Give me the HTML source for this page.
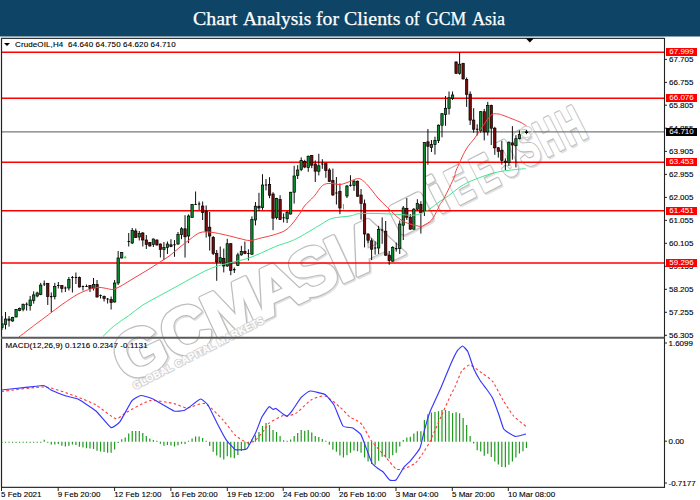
<!DOCTYPE html>
<html><head><meta charset="utf-8"><style>
html,body{margin:0;padding:0;background:#fff;}
body{width:700px;height:500px;position:relative;overflow:hidden;}
.ax{position:absolute;font-family:"Liberation Sans",sans-serif;font-size:8px;line-height:11px;color:#000;white-space:nowrap;-webkit-text-stroke:0.12px #000;}
.lbl{position:absolute;left:666px;width:31px;height:8px;font-family:"Liberation Sans",sans-serif;font-size:8px;line-height:8px;color:#fff;text-align:center;white-space:nowrap;}
.title{position:absolute;left:0;top:0;width:700px;height:36px;font-family:"Liberation Serif",serif;font-size:19px;line-height:38px;color:#fff;-webkit-text-stroke:0.25px #fff;}
.title span{position:absolute;top:0;white-space:nowrap;transform-origin:0 0;}
.tri{position:absolute;left:4px;top:43px;width:0;height:0;border-left:3.3px solid transparent;border-right:3.3px solid transparent;border-top:3.4px solid #000;}
</style></head><body>
<svg width="700" height="500" viewBox="0 0 700 500" style="position:absolute;left:0;top:0"><defs><clipPath id="mc"><rect x="1.5" y="38.5" width="662.5" height="298.5"/></clipPath><clipPath id="sc"><rect x="1.5" y="339" width="662.5" height="148"/></clipPath></defs><rect x="0" y="0" width="700" height="36.5" fill="#0e4466"/><g fill="#e2e2e2" stroke="#e2e2e2" stroke-width="4.4" stroke-linejoin="round" font-family="Liberation Sans" font-weight="bold"><g transform="translate(127.39999999999999,385.0) rotate(-25.0)" font-size="67"><text transform="translate(0,0) scale(1.0,1)">G</text><text transform="translate(52.1,0) scale(1.0,1)">C</text><text transform="translate(99,0) scale(1.05,1)">M</text><text transform="translate(150,0) scale(1.1,1)">A</text><text transform="translate(194,0) scale(1.0,1)">S</text><text transform="translate(236,0) scale(1.0,1)">I</text><text transform="translate(254,0) scale(1.15,1)">A</text></g><g transform="translate(412.3,214.8) rotate(-27)"><rect x="-17" y="-15" width="34" height="30" rx="3"/><rect x="-9" y="-8" width="18" height="16" rx="1.5"/></g><g transform="translate(438.3,195.3) rotate(-27) scale(0.9,1)"><text x="0" y="18.6" font-size="52" text-anchor="middle">i</text></g><g transform="translate(460.3,185.3) rotate(-27) scale(0.62,1)"><text x="0" y="17.9" font-size="50" text-anchor="middle">E</text></g><g transform="translate(485.3,173.3) rotate(-27) scale(0.62,1)"><text x="0" y="17.9" font-size="50" text-anchor="middle">E</text></g><g transform="translate(507.3,159.3) rotate(-27) scale(0.62,1)"><text x="0" y="17.9" font-size="50" text-anchor="middle">J</text></g><g transform="translate(527.3,148.3) rotate(-27) scale(0.62,1)"><text x="0" y="17.9" font-size="50" text-anchor="middle">S</text></g><g transform="translate(549.3,137.3) rotate(-27) scale(0.6,1)"><text x="0" y="17.9" font-size="50" text-anchor="middle">H</text></g><g transform="translate(572.3,126.3) rotate(-27) scale(0.6,1)"><text x="0" y="17.9" font-size="50" text-anchor="middle">H</text></g></g><g fill="#bdbdbd" stroke="#bdbdbd" stroke-width="4.4" stroke-linejoin="round" font-family="Liberation Sans" font-weight="bold"><g transform="translate(126.1,383.7) rotate(-25.0)" font-size="67"><text transform="translate(0,0) scale(1.0,1)">G</text><text transform="translate(52.1,0) scale(1.0,1)">C</text><text transform="translate(99,0) scale(1.05,1)">M</text><text transform="translate(150,0) scale(1.1,1)">A</text><text transform="translate(194,0) scale(1.0,1)">S</text><text transform="translate(236,0) scale(1.0,1)">I</text><text transform="translate(254,0) scale(1.15,1)">A</text></g><g transform="translate(411,213.5) rotate(-27)"><rect x="-17" y="-15" width="34" height="30" rx="3"/><rect x="-9" y="-8" width="18" height="16" rx="1.5"/></g><g transform="translate(437,194) rotate(-27) scale(0.9,1)"><text x="0" y="18.6" font-size="52" text-anchor="middle">i</text></g><g transform="translate(459,184) rotate(-27) scale(0.62,1)"><text x="0" y="17.9" font-size="50" text-anchor="middle">E</text></g><g transform="translate(484,172) rotate(-27) scale(0.62,1)"><text x="0" y="17.9" font-size="50" text-anchor="middle">E</text></g><g transform="translate(506,158) rotate(-27) scale(0.62,1)"><text x="0" y="17.9" font-size="50" text-anchor="middle">J</text></g><g transform="translate(526,147) rotate(-27) scale(0.62,1)"><text x="0" y="17.9" font-size="50" text-anchor="middle">S</text></g><g transform="translate(548,136) rotate(-27) scale(0.6,1)"><text x="0" y="17.9" font-size="50" text-anchor="middle">H</text></g><g transform="translate(571,125) rotate(-27) scale(0.6,1)"><text x="0" y="17.9" font-size="50" text-anchor="middle">H</text></g></g><g fill="#fff" stroke="#fff" stroke-width="2.0" stroke-linejoin="round" font-family="Liberation Sans" font-weight="bold"><g transform="translate(126.1,383.7) rotate(-25.0)" font-size="67"><text transform="translate(0,0) scale(1.0,1)">G</text><text transform="translate(52.1,0) scale(1.0,1)">C</text><text transform="translate(99,0) scale(1.05,1)">M</text><text transform="translate(150,0) scale(1.1,1)">A</text><text transform="translate(194,0) scale(1.0,1)">S</text><text transform="translate(236,0) scale(1.0,1)">I</text><text transform="translate(254,0) scale(1.15,1)">A</text></g><g transform="translate(411,213.5) rotate(-27)"><rect x="-17" y="-15" width="34" height="30" rx="3"/><rect x="-9" y="-8" width="18" height="16" rx="1.5"/></g><g transform="translate(437,194) rotate(-27) scale(0.9,1)"><text x="0" y="18.6" font-size="52" text-anchor="middle">i</text></g><g transform="translate(459,184) rotate(-27) scale(0.62,1)"><text x="0" y="17.9" font-size="50" text-anchor="middle">E</text></g><g transform="translate(484,172) rotate(-27) scale(0.62,1)"><text x="0" y="17.9" font-size="50" text-anchor="middle">E</text></g><g transform="translate(506,158) rotate(-27) scale(0.62,1)"><text x="0" y="17.9" font-size="50" text-anchor="middle">J</text></g><g transform="translate(526,147) rotate(-27) scale(0.62,1)"><text x="0" y="17.9" font-size="50" text-anchor="middle">S</text></g><g transform="translate(548,136) rotate(-27) scale(0.6,1)"><text x="0" y="17.9" font-size="50" text-anchor="middle">H</text></g><g transform="translate(571,125) rotate(-27) scale(0.6,1)"><text x="0" y="17.9" font-size="50" text-anchor="middle">H</text></g></g><g transform="translate(135,389.5) rotate(-27.3)" font-family="Liberation Sans" font-weight="bold" font-size="10" letter-spacing="0.3" stroke-linejoin="round"><text x="0.7" y="0.7" fill="#ececec" stroke="#ececec" stroke-width="1.8">GLOBAL CAPITAL MARKETS</text><text x="0" y="0" fill="#cdcdcd" stroke="#cdcdcd" stroke-width="1.8">GLOBAL CAPITAL MARKETS</text><text x="0" y="0" fill="#fff" stroke="#fff" stroke-width="0.3">GLOBAL CAPITAL MARKETS</text></g><g clip-path="url(#mc)"><line x1="1" y1="52.2" x2="664" y2="52.2" stroke="#ff0000" stroke-width="1.4"/><line x1="1" y1="98.2" x2="664" y2="98.2" stroke="#ff0000" stroke-width="1.4"/><line x1="1" y1="162.3" x2="664" y2="162.3" stroke="#ff0000" stroke-width="1.4"/><line x1="1" y1="210.8" x2="664" y2="210.8" stroke="#ff0000" stroke-width="1.4"/><line x1="1" y1="263.0" x2="664" y2="263.0" stroke="#ff0000" stroke-width="1.4"/><line x1="1" y1="131.9" x2="664" y2="131.9" stroke="#7a7a7a" stroke-width="1.4"/></g><g clip-path="url(#mc)"><line x1="2.00" y1="316" x2="2.00" y2="330" stroke="#000" stroke-width="0.95"/><rect x="0.82" y="323.8" width="2.35" height="3.80" fill="#0a8c2c" stroke="#000" stroke-width="0.7"/><line x1="5.52" y1="312" x2="5.52" y2="329.4" stroke="#000" stroke-width="0.95"/><rect x="4.34" y="319" width="2.35" height="5.50" fill="#0a8c2c" stroke="#000" stroke-width="0.7"/><line x1="9.04" y1="316" x2="9.04" y2="326.6" stroke="#000" stroke-width="0.95"/><rect x="7.86" y="319" width="2.35" height="1.30" fill="#7a0a0a" stroke="#000" stroke-width="0.7"/><line x1="12.56" y1="316.8" x2="12.56" y2="321.7" stroke="#000" stroke-width="0.95"/><rect x="11.38" y="317.5" width="2.35" height="3.50" fill="#0a8c2c" stroke="#000" stroke-width="0.7"/><line x1="16.08" y1="308.9" x2="16.08" y2="317.5" stroke="#000" stroke-width="0.95"/><rect x="14.90" y="309.6" width="2.35" height="7.30" fill="#0a8c2c" stroke="#000" stroke-width="0.7"/><line x1="19.60" y1="307.5" x2="19.60" y2="311.3" stroke="#000" stroke-width="0.95"/><rect x="18.43" y="308.5" width="2.35" height="2.10" fill="#0a8c2c" stroke="#000" stroke-width="0.7"/><line x1="23.12" y1="303.6" x2="23.12" y2="311.3" stroke="#000" stroke-width="0.95"/><rect x="21.95" y="304.3" width="2.35" height="4.90" fill="#0a8c2c" stroke="#000" stroke-width="0.7"/><line x1="26.64" y1="302.4" x2="26.64" y2="310.6" stroke="#000" stroke-width="0.95"/><line x1="25.46" y1="304.30" x2="27.82" y2="304.30" stroke="#000" stroke-width="1.1"/><line x1="30.16" y1="295.9" x2="30.16" y2="310.6" stroke="#000" stroke-width="0.95"/><rect x="28.98" y="300" width="2.35" height="5.70" fill="#0a8c2c" stroke="#000" stroke-width="0.7"/><line x1="33.68" y1="291.3" x2="33.68" y2="303.6" stroke="#000" stroke-width="0.95"/><rect x="32.51" y="294.9" width="2.35" height="5.60" fill="#0a8c2c" stroke="#000" stroke-width="0.7"/><line x1="37.20" y1="291.7" x2="37.20" y2="297.3" stroke="#000" stroke-width="0.95"/><rect x="36.03" y="293" width="2.35" height="3.00" fill="#0a8c2c" stroke="#000" stroke-width="0.7"/><line x1="40.72" y1="282.9" x2="40.72" y2="295.2" stroke="#000" stroke-width="0.95"/><rect x="39.55" y="285.1" width="2.35" height="9.40" fill="#0a8c2c" stroke="#000" stroke-width="0.7"/><line x1="44.24" y1="280.5" x2="44.24" y2="286" stroke="#000" stroke-width="0.95"/><line x1="43.07" y1="284.00" x2="45.41" y2="284.00" stroke="#000" stroke-width="1.1"/><line x1="47.76" y1="283" x2="47.76" y2="305" stroke="#000" stroke-width="0.95"/><rect x="46.59" y="283.3" width="2.35" height="13.30" fill="#7a0a0a" stroke="#000" stroke-width="0.7"/><line x1="51.28" y1="292.4" x2="51.28" y2="312" stroke="#000" stroke-width="0.95"/><line x1="50.11" y1="296.60" x2="52.45" y2="296.60" stroke="#000" stroke-width="1.1"/><line x1="54.80" y1="282.9" x2="54.80" y2="299.4" stroke="#000" stroke-width="0.95"/><rect x="53.62" y="286.5" width="2.35" height="10.10" fill="#0a8c2c" stroke="#000" stroke-width="0.7"/><line x1="58.32" y1="282" x2="58.32" y2="288.5" stroke="#000" stroke-width="0.95"/><line x1="57.15" y1="285.50" x2="59.49" y2="285.50" stroke="#000" stroke-width="1.1"/><line x1="61.84" y1="285" x2="61.84" y2="292.5" stroke="#000" stroke-width="0.95"/><rect x="60.67" y="285.5" width="2.35" height="3.00" fill="#7a0a0a" stroke="#000" stroke-width="0.7"/><line x1="65.36" y1="286.5" x2="65.36" y2="292" stroke="#000" stroke-width="0.95"/><line x1="64.19" y1="288.00" x2="66.53" y2="288.00" stroke="#000" stroke-width="1.1"/><line x1="68.88" y1="277" x2="68.88" y2="290.5" stroke="#000" stroke-width="0.95"/><rect x="67.70" y="279.5" width="2.35" height="8.50" fill="#0a8c2c" stroke="#000" stroke-width="0.7"/><line x1="72.40" y1="276" x2="72.40" y2="292.5" stroke="#000" stroke-width="0.95"/><line x1="71.23" y1="277.50" x2="73.58" y2="277.50" stroke="#000" stroke-width="1.1"/><line x1="75.92" y1="272.5" x2="75.92" y2="284" stroke="#000" stroke-width="0.95"/><line x1="74.75" y1="277.50" x2="77.09" y2="277.50" stroke="#000" stroke-width="1.1"/><line x1="79.44" y1="276.5" x2="79.44" y2="287.5" stroke="#000" stroke-width="0.95"/><rect x="78.27" y="277.5" width="2.35" height="9.50" fill="#7a0a0a" stroke="#000" stroke-width="0.7"/><line x1="82.96" y1="285.5" x2="82.96" y2="290.5" stroke="#000" stroke-width="0.95"/><line x1="81.78" y1="286.50" x2="84.13" y2="286.50" stroke="#000" stroke-width="1.1"/><line x1="86.48" y1="284.5" x2="86.48" y2="287" stroke="#000" stroke-width="0.95"/><line x1="85.31" y1="286.50" x2="87.66" y2="286.50" stroke="#000" stroke-width="1.1"/><line x1="90.00" y1="285" x2="90.00" y2="292" stroke="#000" stroke-width="0.95"/><rect x="88.83" y="285.5" width="2.35" height="3.00" fill="#7a0a0a" stroke="#000" stroke-width="0.7"/><line x1="93.52" y1="278" x2="93.52" y2="290.5" stroke="#000" stroke-width="0.95"/><rect x="92.34" y="284.5" width="2.35" height="3.50" fill="#0a8c2c" stroke="#000" stroke-width="0.7"/><line x1="97.04" y1="280" x2="97.04" y2="297.5" stroke="#000" stroke-width="0.95"/><rect x="95.87" y="284.5" width="2.35" height="12.50" fill="#7a0a0a" stroke="#000" stroke-width="0.7"/><line x1="100.56" y1="294.5" x2="100.56" y2="298.5" stroke="#000" stroke-width="0.95"/><line x1="99.39" y1="295.50" x2="101.73" y2="295.50" stroke="#000" stroke-width="1.1"/><line x1="104.08" y1="295.5" x2="104.08" y2="301.5" stroke="#000" stroke-width="0.95"/><rect x="102.91" y="296.5" width="2.35" height="2.00" fill="#7a0a0a" stroke="#000" stroke-width="0.7"/><line x1="107.60" y1="298" x2="107.60" y2="303.5" stroke="#000" stroke-width="0.95"/><line x1="106.42" y1="299.00" x2="108.77" y2="299.00" stroke="#000" stroke-width="1.1"/><line x1="111.12" y1="296.5" x2="111.12" y2="309.5" stroke="#000" stroke-width="0.95"/><rect x="109.95" y="299.5" width="2.35" height="3.00" fill="#7a0a0a" stroke="#000" stroke-width="0.7"/><line x1="114.64" y1="280" x2="114.64" y2="302.5" stroke="#000" stroke-width="0.95"/><rect x="113.47" y="283" width="2.35" height="19.00" fill="#0a8c2c" stroke="#000" stroke-width="0.7"/><line x1="118.16" y1="251" x2="118.16" y2="285" stroke="#000" stroke-width="0.95"/><rect x="116.98" y="258" width="2.35" height="25.00" fill="#0a8c2c" stroke="#000" stroke-width="0.7"/><line x1="121.68" y1="252" x2="121.68" y2="258.5" stroke="#000" stroke-width="0.95"/><rect x="120.51" y="252.5" width="2.35" height="5.50" fill="#0a8c2c" stroke="#000" stroke-width="0.7"/><line x1="128.72" y1="233" x2="128.72" y2="246.5" stroke="#000" stroke-width="0.95"/><line x1="127.55" y1="241.50" x2="129.90" y2="241.50" stroke="#000" stroke-width="1.1"/><line x1="132.24" y1="228" x2="132.24" y2="244" stroke="#000" stroke-width="0.95"/><rect x="131.06" y="230.5" width="2.35" height="12.50" fill="#0a8c2c" stroke="#000" stroke-width="0.7"/><line x1="135.76" y1="228.5" x2="135.76" y2="238" stroke="#000" stroke-width="0.95"/><rect x="134.58" y="231" width="2.35" height="6.50" fill="#7a0a0a" stroke="#000" stroke-width="0.7"/><line x1="139.28" y1="231" x2="139.28" y2="240.5" stroke="#000" stroke-width="0.95"/><rect x="138.10" y="233.5" width="2.35" height="3.50" fill="#0a8c2c" stroke="#000" stroke-width="0.7"/><line x1="142.80" y1="232" x2="142.80" y2="246.5" stroke="#000" stroke-width="0.95"/><rect x="141.62" y="233" width="2.35" height="7.00" fill="#7a0a0a" stroke="#000" stroke-width="0.7"/><line x1="146.32" y1="235" x2="146.32" y2="249" stroke="#000" stroke-width="0.95"/><rect x="145.14" y="240" width="2.35" height="4.50" fill="#7a0a0a" stroke="#000" stroke-width="0.7"/><line x1="149.84" y1="242" x2="149.84" y2="246.5" stroke="#000" stroke-width="0.95"/><rect x="148.66" y="242.5" width="2.35" height="3.50" fill="#7a0a0a" stroke="#000" stroke-width="0.7"/><line x1="153.36" y1="238.5" x2="153.36" y2="247" stroke="#000" stroke-width="0.95"/><rect x="152.19" y="239" width="2.35" height="5.50" fill="#0a8c2c" stroke="#000" stroke-width="0.7"/><line x1="156.88" y1="239.5" x2="156.88" y2="245.5" stroke="#000" stroke-width="0.95"/><rect x="155.70" y="240" width="2.35" height="5.00" fill="#7a0a0a" stroke="#000" stroke-width="0.7"/><line x1="160.40" y1="243.5" x2="160.40" y2="257.5" stroke="#000" stroke-width="0.95"/><rect x="159.22" y="244" width="2.35" height="5.50" fill="#7a0a0a" stroke="#000" stroke-width="0.7"/><line x1="163.92" y1="242" x2="163.92" y2="260" stroke="#000" stroke-width="0.95"/><rect x="162.74" y="247.5" width="2.35" height="2.00" fill="#0a8c2c" stroke="#000" stroke-width="0.7"/><line x1="167.44" y1="241.5" x2="167.44" y2="254" stroke="#000" stroke-width="0.95"/><rect x="166.26" y="244" width="2.35" height="3.50" fill="#0a8c2c" stroke="#000" stroke-width="0.7"/><line x1="170.96" y1="239.2" x2="170.96" y2="247.2" stroke="#000" stroke-width="0.95"/><rect x="169.78" y="244.8" width="2.35" height="1.60" fill="#7a0a0a" stroke="#000" stroke-width="0.7"/><line x1="174.48" y1="240" x2="174.48" y2="256.8" stroke="#000" stroke-width="0.95"/><line x1="173.30" y1="244.80" x2="175.66" y2="244.80" stroke="#000" stroke-width="1.1"/><line x1="178.00" y1="232" x2="178.00" y2="244.8" stroke="#000" stroke-width="0.95"/><rect x="176.82" y="234.4" width="2.35" height="9.60" fill="#0a8c2c" stroke="#000" stroke-width="0.7"/><line x1="181.52" y1="227.2" x2="181.52" y2="239.2" stroke="#000" stroke-width="0.95"/><rect x="180.34" y="228.8" width="2.35" height="5.60" fill="#0a8c2c" stroke="#000" stroke-width="0.7"/><line x1="185.04" y1="215.2" x2="185.04" y2="257.6" stroke="#000" stroke-width="0.95"/><rect x="183.86" y="228.8" width="2.35" height="8.00" fill="#7a0a0a" stroke="#000" stroke-width="0.7"/><line x1="188.56" y1="214.4" x2="188.56" y2="243.2" stroke="#000" stroke-width="0.95"/><rect x="187.38" y="216" width="2.35" height="20.00" fill="#0a8c2c" stroke="#000" stroke-width="0.7"/><line x1="192.08" y1="204" x2="192.08" y2="217.6" stroke="#000" stroke-width="0.95"/><rect x="190.91" y="204.5" width="2.35" height="13.00" fill="#0a8c2c" stroke="#000" stroke-width="0.7"/><line x1="195.60" y1="191.5" x2="195.60" y2="205" stroke="#000" stroke-width="0.95"/><line x1="194.42" y1="204.50" x2="196.78" y2="204.50" stroke="#000" stroke-width="1.1"/><line x1="199.12" y1="201.5" x2="199.12" y2="210" stroke="#000" stroke-width="0.95"/><line x1="197.94" y1="204.00" x2="200.30" y2="204.00" stroke="#000" stroke-width="1.1"/><line x1="202.64" y1="201.5" x2="202.64" y2="220" stroke="#000" stroke-width="0.95"/><rect x="201.47" y="206" width="2.35" height="6.50" fill="#7a0a0a" stroke="#000" stroke-width="0.7"/><line x1="206.16" y1="205.5" x2="206.16" y2="237.6" stroke="#000" stroke-width="0.95"/><rect x="204.98" y="211.2" width="2.35" height="20.00" fill="#7a0a0a" stroke="#000" stroke-width="0.7"/><line x1="209.68" y1="212" x2="209.68" y2="250.5" stroke="#000" stroke-width="0.95"/><rect x="208.50" y="227.2" width="2.35" height="8.80" fill="#7a0a0a" stroke="#000" stroke-width="0.7"/><line x1="213.20" y1="236" x2="213.20" y2="255" stroke="#000" stroke-width="0.95"/><rect x="212.02" y="237.4" width="2.35" height="16.10" fill="#7a0a0a" stroke="#000" stroke-width="0.7"/><line x1="216.72" y1="250" x2="216.72" y2="280.8" stroke="#000" stroke-width="0.95"/><rect x="215.54" y="253.5" width="2.35" height="8.50" fill="#7a0a0a" stroke="#000" stroke-width="0.7"/><line x1="220.24" y1="246.5" x2="220.24" y2="263.3" stroke="#000" stroke-width="0.95"/><rect x="219.06" y="257.7" width="2.35" height="4.30" fill="#0a8c2c" stroke="#000" stroke-width="0.7"/><line x1="223.76" y1="248.6" x2="223.76" y2="272.4" stroke="#000" stroke-width="0.95"/><rect x="222.58" y="258.4" width="2.35" height="7.60" fill="#7a0a0a" stroke="#000" stroke-width="0.7"/><line x1="227.28" y1="238.8" x2="227.28" y2="266.8" stroke="#000" stroke-width="0.95"/><rect x="226.10" y="243.7" width="2.35" height="22.30" fill="#0a8c2c" stroke="#000" stroke-width="0.7"/><line x1="230.80" y1="243" x2="230.80" y2="275.2" stroke="#000" stroke-width="0.95"/><rect x="229.62" y="243.7" width="2.35" height="26.60" fill="#7a0a0a" stroke="#000" stroke-width="0.7"/><line x1="234.32" y1="267.5" x2="234.32" y2="273" stroke="#000" stroke-width="0.95"/><line x1="233.14" y1="269.60" x2="235.50" y2="269.60" stroke="#000" stroke-width="1.1"/><line x1="237.84" y1="252.8" x2="237.84" y2="266" stroke="#000" stroke-width="0.95"/><rect x="236.66" y="254.9" width="2.35" height="10.50" fill="#0a8c2c" stroke="#000" stroke-width="0.7"/><line x1="241.36" y1="245.8" x2="241.36" y2="255.6" stroke="#000" stroke-width="0.95"/><rect x="240.19" y="251.4" width="2.35" height="3.50" fill="#0a8c2c" stroke="#000" stroke-width="0.7"/><line x1="244.88" y1="241.6" x2="244.88" y2="254.2" stroke="#000" stroke-width="0.95"/><rect x="243.70" y="251.4" width="2.35" height="2.10" fill="#7a0a0a" stroke="#000" stroke-width="0.7"/><line x1="248.40" y1="249.3" x2="248.40" y2="260.5" stroke="#000" stroke-width="0.95"/><line x1="247.22" y1="253.50" x2="249.58" y2="253.50" stroke="#000" stroke-width="1.1"/><line x1="251.92" y1="216.4" x2="251.92" y2="254.8" stroke="#000" stroke-width="0.95"/><rect x="250.74" y="219.4" width="2.35" height="34.80" fill="#0a8c2c" stroke="#000" stroke-width="0.7"/><line x1="255.44" y1="202" x2="255.44" y2="225.4" stroke="#000" stroke-width="0.95"/><rect x="254.26" y="206.2" width="2.35" height="13.80" fill="#0a8c2c" stroke="#000" stroke-width="0.7"/><line x1="258.96" y1="192.8" x2="258.96" y2="211" stroke="#000" stroke-width="0.95"/><rect x="257.78" y="206.2" width="2.35" height="1.80" fill="#7a0a0a" stroke="#000" stroke-width="0.7"/><line x1="262.48" y1="174.2" x2="262.48" y2="209.8" stroke="#000" stroke-width="0.95"/><rect x="261.31" y="185" width="2.35" height="22.40" fill="#0a8c2c" stroke="#000" stroke-width="0.7"/><line x1="266.00" y1="179" x2="266.00" y2="190.4" stroke="#000" stroke-width="0.95"/><line x1="264.82" y1="185.00" x2="267.18" y2="185.00" stroke="#000" stroke-width="1.1"/><line x1="269.52" y1="177.2" x2="269.52" y2="198.2" stroke="#000" stroke-width="0.95"/><rect x="268.34" y="184.4" width="2.35" height="10.80" fill="#7a0a0a" stroke="#000" stroke-width="0.7"/><line x1="273.04" y1="192.2" x2="273.04" y2="230.2" stroke="#000" stroke-width="0.95"/><rect x="271.87" y="194" width="2.35" height="24.20" fill="#7a0a0a" stroke="#000" stroke-width="0.7"/><line x1="276.56" y1="197.8" x2="276.56" y2="219.4" stroke="#000" stroke-width="0.95"/><rect x="275.38" y="198.4" width="2.35" height="19.20" fill="#0a8c2c" stroke="#000" stroke-width="0.7"/><line x1="280.08" y1="195.2" x2="280.08" y2="220" stroke="#000" stroke-width="0.95"/><rect x="278.90" y="199.6" width="2.35" height="19.80" fill="#7a0a0a" stroke="#000" stroke-width="0.7"/><line x1="283.60" y1="213.4" x2="283.60" y2="222.4" stroke="#000" stroke-width="0.95"/><line x1="282.43" y1="217.80" x2="284.78" y2="217.80" stroke="#000" stroke-width="1.1"/><line x1="287.12" y1="211" x2="287.12" y2="223" stroke="#000" stroke-width="0.95"/><rect x="285.94" y="212.2" width="2.35" height="6.60" fill="#0a8c2c" stroke="#000" stroke-width="0.7"/><line x1="290.64" y1="192" x2="290.64" y2="214.6" stroke="#000" stroke-width="0.95"/><rect x="289.46" y="192.2" width="2.35" height="21.80" fill="#0a8c2c" stroke="#000" stroke-width="0.7"/><line x1="294.16" y1="165.8" x2="294.16" y2="203.6" stroke="#000" stroke-width="0.95"/><rect x="292.99" y="176" width="2.35" height="16.20" fill="#0a8c2c" stroke="#000" stroke-width="0.7"/><line x1="297.68" y1="165.2" x2="297.68" y2="179" stroke="#000" stroke-width="0.95"/><rect x="296.50" y="170" width="2.35" height="5.40" fill="#0a8c2c" stroke="#000" stroke-width="0.7"/><line x1="301.20" y1="157.4" x2="301.20" y2="171.2" stroke="#000" stroke-width="0.95"/><rect x="300.02" y="160.4" width="2.35" height="9.00" fill="#0a8c2c" stroke="#000" stroke-width="0.7"/><line x1="304.72" y1="159.8" x2="304.72" y2="168.2" stroke="#000" stroke-width="0.95"/><rect x="303.55" y="161.6" width="2.35" height="5.40" fill="#7a0a0a" stroke="#000" stroke-width="0.7"/><line x1="308.24" y1="155.6" x2="308.24" y2="171.8" stroke="#000" stroke-width="0.95"/><rect x="307.06" y="156.2" width="2.35" height="11.40" fill="#0a8c2c" stroke="#000" stroke-width="0.7"/><line x1="311.76" y1="155" x2="311.76" y2="168.2" stroke="#000" stroke-width="0.95"/><rect x="310.58" y="155.6" width="2.35" height="9.60" fill="#7a0a0a" stroke="#000" stroke-width="0.7"/><line x1="315.28" y1="160.4" x2="315.28" y2="182" stroke="#000" stroke-width="0.95"/><rect x="314.11" y="164" width="2.35" height="7.20" fill="#7a0a0a" stroke="#000" stroke-width="0.7"/><line x1="318.80" y1="153.8" x2="318.80" y2="175.4" stroke="#000" stroke-width="0.95"/><rect x="317.62" y="165.8" width="2.35" height="5.40" fill="#0a8c2c" stroke="#000" stroke-width="0.7"/><line x1="322.32" y1="159.2" x2="322.32" y2="168.8" stroke="#000" stroke-width="0.95"/><line x1="321.14" y1="164.00" x2="323.50" y2="164.00" stroke="#000" stroke-width="1.1"/><line x1="325.84" y1="162.8" x2="325.84" y2="177.8" stroke="#000" stroke-width="0.95"/><rect x="324.66" y="163.4" width="2.35" height="7.20" fill="#7a0a0a" stroke="#000" stroke-width="0.7"/><line x1="329.36" y1="168.2" x2="329.36" y2="182" stroke="#000" stroke-width="0.95"/><rect x="328.19" y="170" width="2.35" height="11.40" fill="#7a0a0a" stroke="#000" stroke-width="0.7"/><line x1="332.88" y1="168.6" x2="332.88" y2="195.8" stroke="#000" stroke-width="0.95"/><rect x="331.70" y="180.4" width="2.35" height="14.60" fill="#7a0a0a" stroke="#000" stroke-width="0.7"/><line x1="336.40" y1="177" x2="336.40" y2="204.5" stroke="#000" stroke-width="0.95"/><line x1="335.22" y1="193.00" x2="337.57" y2="193.00" stroke="#000" stroke-width="1.1"/><line x1="339.92" y1="183.4" x2="339.92" y2="214.2" stroke="#000" stroke-width="0.95"/><rect x="338.75" y="191.4" width="2.35" height="16.60" fill="#7a0a0a" stroke="#000" stroke-width="0.7"/><line x1="346.96" y1="185" x2="346.96" y2="198" stroke="#000" stroke-width="0.95"/><rect x="345.78" y="186" width="2.35" height="10.00" fill="#0a8c2c" stroke="#000" stroke-width="0.7"/><line x1="350.48" y1="175.2" x2="350.48" y2="186.6" stroke="#000" stroke-width="0.95"/><line x1="349.31" y1="185.40" x2="351.66" y2="185.40" stroke="#000" stroke-width="1.1"/><line x1="354.00" y1="180" x2="354.00" y2="190.8" stroke="#000" stroke-width="0.95"/><rect x="352.82" y="181.2" width="2.35" height="4.20" fill="#0a8c2c" stroke="#000" stroke-width="0.7"/><line x1="357.52" y1="180.6" x2="357.52" y2="196.8" stroke="#000" stroke-width="0.95"/><rect x="356.34" y="181.2" width="2.35" height="15.00" fill="#7a0a0a" stroke="#000" stroke-width="0.7"/><line x1="361.04" y1="189" x2="361.04" y2="219.6" stroke="#000" stroke-width="0.95"/><rect x="359.87" y="195" width="2.35" height="8.40" fill="#7a0a0a" stroke="#000" stroke-width="0.7"/><line x1="364.56" y1="199.5" x2="364.56" y2="247.4" stroke="#000" stroke-width="0.95"/><rect x="363.38" y="203.8" width="2.35" height="30.20" fill="#7a0a0a" stroke="#000" stroke-width="0.7"/><line x1="368.08" y1="233" x2="368.08" y2="243.2" stroke="#000" stroke-width="0.95"/><rect x="366.90" y="234.2" width="2.35" height="6.00" fill="#7a0a0a" stroke="#000" stroke-width="0.7"/><line x1="371.60" y1="238.4" x2="371.60" y2="260" stroke="#000" stroke-width="0.95"/><rect x="370.43" y="240.8" width="2.35" height="8.40" fill="#7a0a0a" stroke="#000" stroke-width="0.7"/><line x1="375.12" y1="241.4" x2="375.12" y2="254.6" stroke="#000" stroke-width="0.95"/><line x1="373.94" y1="248.00" x2="376.30" y2="248.00" stroke="#000" stroke-width="1.1"/><line x1="378.64" y1="225.8" x2="378.64" y2="254" stroke="#000" stroke-width="0.95"/><rect x="377.46" y="229.4" width="2.35" height="18.60" fill="#0a8c2c" stroke="#000" stroke-width="0.7"/><line x1="382.16" y1="217.4" x2="382.16" y2="243.8" stroke="#000" stroke-width="0.95"/><line x1="380.99" y1="230.00" x2="383.34" y2="230.00" stroke="#000" stroke-width="1.1"/><line x1="385.68" y1="221" x2="385.68" y2="255.8" stroke="#000" stroke-width="0.95"/><rect x="384.50" y="231.2" width="2.35" height="24.00" fill="#7a0a0a" stroke="#000" stroke-width="0.7"/><line x1="389.20" y1="251" x2="389.20" y2="264.8" stroke="#000" stroke-width="0.95"/><rect x="388.02" y="255.2" width="2.35" height="5.40" fill="#7a0a0a" stroke="#000" stroke-width="0.7"/><line x1="392.72" y1="246.2" x2="392.72" y2="261.8" stroke="#000" stroke-width="0.95"/><rect x="391.55" y="247.4" width="2.35" height="13.80" fill="#0a8c2c" stroke="#000" stroke-width="0.7"/><line x1="396.24" y1="242.6" x2="396.24" y2="251.6" stroke="#000" stroke-width="0.95"/><line x1="395.06" y1="248.60" x2="397.42" y2="248.60" stroke="#000" stroke-width="1.1"/><line x1="399.76" y1="220.4" x2="399.76" y2="254" stroke="#000" stroke-width="0.95"/><rect x="398.58" y="224" width="2.35" height="24.60" fill="#0a8c2c" stroke="#000" stroke-width="0.7"/><line x1="403.28" y1="206" x2="403.28" y2="240" stroke="#000" stroke-width="0.95"/><rect x="402.11" y="208" width="2.35" height="17.20" fill="#0a8c2c" stroke="#000" stroke-width="0.7"/><line x1="406.80" y1="198" x2="406.80" y2="220" stroke="#000" stroke-width="0.95"/><rect x="405.62" y="208.4" width="2.35" height="8.80" fill="#7a0a0a" stroke="#000" stroke-width="0.7"/><line x1="410.32" y1="214" x2="410.32" y2="229.6" stroke="#000" stroke-width="0.95"/><rect x="409.14" y="217.2" width="2.35" height="12.00" fill="#7a0a0a" stroke="#000" stroke-width="0.7"/><line x1="413.84" y1="208" x2="413.84" y2="229.6" stroke="#000" stroke-width="0.95"/><rect x="412.66" y="209.2" width="2.35" height="20.00" fill="#0a8c2c" stroke="#000" stroke-width="0.7"/><line x1="417.36" y1="199.2" x2="417.36" y2="210.8" stroke="#000" stroke-width="0.95"/><rect x="416.19" y="203.6" width="2.35" height="5.60" fill="#0a8c2c" stroke="#000" stroke-width="0.7"/><line x1="420.88" y1="201.2" x2="420.88" y2="233.6" stroke="#000" stroke-width="0.95"/><rect x="419.70" y="204.4" width="2.35" height="8.40" fill="#7a0a0a" stroke="#000" stroke-width="0.7"/><line x1="424.40" y1="142" x2="424.40" y2="216" stroke="#000" stroke-width="0.95"/><rect x="423.22" y="142.4" width="2.35" height="69.20" fill="#0a8c2c" stroke="#000" stroke-width="0.7"/><line x1="427.92" y1="129" x2="427.92" y2="164.8" stroke="#000" stroke-width="0.95"/><rect x="426.75" y="141.8" width="2.35" height="4.50" fill="#7a0a0a" stroke="#000" stroke-width="0.7"/><line x1="431.44" y1="140" x2="431.44" y2="152" stroke="#000" stroke-width="0.95"/><rect x="430.26" y="144.4" width="2.35" height="3.20" fill="#0a8c2c" stroke="#000" stroke-width="0.7"/><line x1="434.96" y1="136.7" x2="434.96" y2="154.6" stroke="#000" stroke-width="0.95"/><rect x="433.78" y="140.5" width="2.35" height="3.90" fill="#0a8c2c" stroke="#000" stroke-width="0.7"/><line x1="438.48" y1="124.5" x2="438.48" y2="143" stroke="#000" stroke-width="0.95"/><rect x="437.31" y="125.2" width="2.35" height="15.30" fill="#0a8c2c" stroke="#000" stroke-width="0.7"/><line x1="442.00" y1="113" x2="442.00" y2="137.3" stroke="#000" stroke-width="0.95"/><rect x="440.82" y="113.7" width="2.35" height="11.50" fill="#0a8c2c" stroke="#000" stroke-width="0.7"/><line x1="445.52" y1="96" x2="445.52" y2="125.8" stroke="#000" stroke-width="0.95"/><rect x="444.34" y="108.3" width="2.35" height="6.30" fill="#0a8c2c" stroke="#000" stroke-width="0.7"/><line x1="449.04" y1="91.5" x2="449.04" y2="114.6" stroke="#000" stroke-width="0.95"/><rect x="447.87" y="97.8" width="2.35" height="10.50" fill="#0a8c2c" stroke="#000" stroke-width="0.7"/><line x1="452.56" y1="91.5" x2="452.56" y2="100" stroke="#000" stroke-width="0.95"/><rect x="451.38" y="95" width="2.35" height="3.50" fill="#0a8c2c" stroke="#000" stroke-width="0.7"/><line x1="456.08" y1="61.4" x2="456.08" y2="74" stroke="#000" stroke-width="0.95"/><rect x="454.90" y="62" width="2.35" height="11.30" fill="#7a0a0a" stroke="#000" stroke-width="0.7"/><line x1="459.60" y1="52.3" x2="459.60" y2="74.7" stroke="#000" stroke-width="0.95"/><rect x="458.43" y="64.2" width="2.35" height="9.10" fill="#0a8c2c" stroke="#000" stroke-width="0.7"/><line x1="463.12" y1="62.8" x2="463.12" y2="79.6" stroke="#000" stroke-width="0.95"/><rect x="461.94" y="63.5" width="2.35" height="15.40" fill="#7a0a0a" stroke="#000" stroke-width="0.7"/><line x1="466.64" y1="77.5" x2="466.64" y2="106.9" stroke="#000" stroke-width="0.95"/><rect x="465.46" y="79.6" width="2.35" height="14.70" fill="#7a0a0a" stroke="#000" stroke-width="0.7"/><line x1="470.16" y1="91.4" x2="470.16" y2="125" stroke="#000" stroke-width="0.95"/><rect x="468.99" y="94.2" width="2.35" height="25.90" fill="#7a0a0a" stroke="#000" stroke-width="0.7"/><line x1="473.68" y1="108.2" x2="473.68" y2="132.7" stroke="#000" stroke-width="0.95"/><rect x="472.50" y="120.1" width="2.35" height="9.10" fill="#7a0a0a" stroke="#000" stroke-width="0.7"/><line x1="477.20" y1="124.3" x2="477.20" y2="135.5" stroke="#000" stroke-width="0.95"/><line x1="476.02" y1="129.20" x2="478.38" y2="129.20" stroke="#000" stroke-width="1.1"/><line x1="480.72" y1="111" x2="480.72" y2="132.7" stroke="#000" stroke-width="0.95"/><rect x="479.55" y="111.7" width="2.35" height="18.90" fill="#0a8c2c" stroke="#000" stroke-width="0.7"/><line x1="484.24" y1="108.9" x2="484.24" y2="140.4" stroke="#000" stroke-width="0.95"/><rect x="483.06" y="111.7" width="2.35" height="20.30" fill="#7a0a0a" stroke="#000" stroke-width="0.7"/><line x1="487.76" y1="101.9" x2="487.76" y2="135.5" stroke="#000" stroke-width="0.95"/><rect x="486.58" y="105.4" width="2.35" height="26.60" fill="#0a8c2c" stroke="#000" stroke-width="0.7"/><line x1="491.28" y1="104.7" x2="491.28" y2="145" stroke="#000" stroke-width="0.95"/><rect x="490.11" y="105.4" width="2.35" height="22.80" fill="#7a0a0a" stroke="#000" stroke-width="0.7"/><line x1="494.80" y1="126.8" x2="494.80" y2="154.8" stroke="#000" stroke-width="0.95"/><rect x="493.62" y="128.2" width="2.35" height="19.60" fill="#7a0a0a" stroke="#000" stroke-width="0.7"/><line x1="498.32" y1="147.1" x2="498.32" y2="157.6" stroke="#000" stroke-width="0.95"/><rect x="497.14" y="147.8" width="2.35" height="3.50" fill="#7a0a0a" stroke="#000" stroke-width="0.7"/><line x1="501.84" y1="140.8" x2="501.84" y2="164.6" stroke="#000" stroke-width="0.95"/><rect x="500.66" y="150.6" width="2.35" height="9.80" fill="#7a0a0a" stroke="#000" stroke-width="0.7"/><line x1="505.36" y1="158.3" x2="505.36" y2="170.2" stroke="#000" stroke-width="0.95"/><rect x="504.19" y="161.1" width="2.35" height="1.40" fill="#7a0a0a" stroke="#000" stroke-width="0.7"/><line x1="508.88" y1="141.5" x2="508.88" y2="166" stroke="#000" stroke-width="0.95"/><rect x="507.70" y="142.2" width="2.35" height="20.30" fill="#0a8c2c" stroke="#000" stroke-width="0.7"/><line x1="512.40" y1="126.1" x2="512.40" y2="159.7" stroke="#000" stroke-width="0.95"/><rect x="511.22" y="142.9" width="2.35" height="2.10" fill="#7a0a0a" stroke="#000" stroke-width="0.7"/><line x1="515.92" y1="135.2" x2="515.92" y2="167.4" stroke="#000" stroke-width="0.95"/><rect x="514.75" y="138.7" width="2.35" height="7.00" fill="#0a8c2c" stroke="#000" stroke-width="0.7"/><line x1="519.44" y1="130.3" x2="519.44" y2="139.4" stroke="#000" stroke-width="0.95"/><rect x="518.27" y="134.5" width="2.35" height="4.20" fill="#0a8c2c" stroke="#000" stroke-width="0.7"/><line x1="521.66" y1="132.8" x2="524.26" y2="132.8" stroke="#66dd66" stroke-width="1.3"/><circle cx="526.48" cy="131.9" r="5.8" fill="none" stroke="#d8d8d8" stroke-width="1.3"/><line x1="526.48" y1="129.8" x2="526.48" y2="134.2" stroke="#000" stroke-width="0.9"/><line x1="524.88" y1="132.2" x2="528.08" y2="132.2" stroke="#000" stroke-width="1.5"/><path d="M123.60000000000001,258.3 L125.2,255.6 L126.8,258.3Z" fill="#33e033"/><line x1="343.44" y1="204" x2="343.44" y2="209.5" stroke="#22dd22" stroke-width="1"/><path d="M103.00,336.40 C104.88,334.62 110.03,329.15 114.30,325.70 C118.57,322.25 123.83,319.15 128.60,315.70 C133.37,312.25 138.15,308.10 142.90,305.00 C147.65,301.90 152.35,299.72 157.10,297.10 C161.85,294.48 166.63,291.92 171.40,289.30 C176.17,286.68 180.22,284.38 185.70,281.40 C191.18,278.42 198.82,274.02 204.30,271.40 C209.78,268.78 213.83,267.25 218.60,265.70 C223.37,264.15 228.15,263.28 232.90,262.10 C237.65,260.92 242.35,260.13 247.10,258.60 C251.85,257.07 256.63,254.93 261.40,252.90 C266.17,250.87 270.93,248.30 275.70,246.40 C280.47,244.50 285.95,243.10 290.00,241.50 C294.05,239.90 295.00,239.55 300.00,236.80 C305.00,234.05 314.67,228.07 320.00,225.00 C325.33,221.93 327.00,219.90 332.00,218.40 C337.00,216.90 345.40,216.80 350.00,216.00 C354.60,215.20 354.60,214.00 359.60,213.60 C364.60,213.20 373.60,213.47 380.00,213.60 C386.40,213.73 392.33,214.13 398.00,214.40 C403.67,214.67 409.60,215.60 414.00,215.20 C418.40,214.80 421.73,213.07 424.40,212.00 C427.07,210.93 427.40,210.57 430.00,208.80 C432.60,207.03 436.90,203.58 440.00,201.40 C443.10,199.22 445.50,197.95 448.60,195.70 C451.70,193.45 455.27,190.17 458.60,187.90 C461.93,185.63 464.55,184.02 468.60,182.10 C472.65,180.18 478.15,178.07 482.90,176.40 C487.65,174.73 492.35,173.17 497.10,172.10 C501.85,171.03 506.63,170.58 511.40,170.00 C516.17,169.42 523.32,168.83 525.70,168.60" fill="none" stroke="#44e590" stroke-width="1" /><path d="M19.00,337.00 C21.55,335.05 29.37,329.03 34.30,325.30 C39.23,321.57 43.83,318.17 48.60,314.60 C53.37,311.03 58.15,307.23 62.90,303.90 C67.65,300.57 72.82,296.98 77.10,294.60 C81.38,292.22 85.02,290.80 88.60,289.60 C92.18,288.40 95.27,287.52 98.60,287.40 C101.93,287.28 106.20,288.57 108.60,288.90 C111.00,289.23 111.10,289.80 113.00,289.40 C114.90,289.00 117.17,287.98 120.00,286.50 C122.83,285.02 126.67,282.50 130.00,280.50 C133.33,278.50 136.67,276.50 140.00,274.50 C143.33,272.50 146.67,270.58 150.00,268.50 C153.33,266.42 156.67,264.17 160.00,262.00 C163.33,259.83 166.67,258.00 170.00,255.50 C173.33,253.00 176.67,249.70 180.00,247.00 C183.33,244.30 186.67,241.70 190.00,239.30 C193.33,236.90 196.43,233.77 200.00,232.60 C203.57,231.43 207.12,231.90 211.40,232.30 C215.68,232.70 220.93,233.95 225.70,235.00 C230.47,236.05 235.95,237.68 240.00,238.60 C244.05,239.52 246.43,240.62 250.00,240.50 C253.57,240.38 257.12,238.93 261.40,237.90 C265.68,236.87 271.27,235.88 275.70,234.30 C280.13,232.72 283.95,231.88 288.00,228.40 C292.05,224.92 297.27,217.13 300.00,213.40 C302.73,209.67 302.07,208.83 304.40,206.00 C306.73,203.17 311.00,199.80 314.00,196.40 C317.00,193.00 319.73,187.77 322.40,185.60 C325.07,183.43 327.40,183.60 330.00,183.40 C332.60,183.20 336.00,184.27 338.00,184.40 C340.00,184.53 340.00,184.70 342.00,184.20 C344.00,183.70 347.60,182.30 350.00,181.40 C352.40,180.50 354.53,179.13 356.40,178.80 C358.27,178.47 359.20,178.20 361.20,179.40 C363.20,180.60 365.60,182.90 368.40,186.00 C371.20,189.10 374.80,194.40 378.00,198.00 C381.20,201.60 383.93,204.07 387.60,207.60 C391.27,211.13 396.27,216.47 400.00,219.20 C403.73,221.93 406.60,222.80 410.00,224.00 C413.40,225.20 418.07,226.20 420.40,226.40 C422.73,226.60 422.13,226.27 424.00,225.20 C425.87,224.13 429.40,222.47 431.60,220.00 C433.80,217.53 435.80,213.02 437.20,210.40 C438.60,207.78 438.87,206.30 440.00,204.30 C441.13,202.30 441.62,202.93 444.00,198.40 C446.38,193.87 452.30,181.70 454.30,177.10 C456.30,172.50 454.10,175.32 456.00,170.80 C457.90,166.28 462.70,155.30 465.70,150.00 C468.70,144.70 471.62,142.25 474.00,139.00 C476.38,135.75 478.00,133.42 480.00,130.50 C482.00,127.58 484.00,124.17 486.00,121.50 C488.00,118.83 490.00,115.75 492.00,114.50 C494.00,113.25 496.17,113.87 498.00,114.00 C499.83,114.13 500.67,114.50 503.00,115.30 C505.33,116.10 509.00,117.60 512.00,118.80 C515.00,120.00 518.60,121.30 521.00,122.50 C523.40,123.70 525.50,125.42 526.40,126.00" fill="none" stroke="#f54040" stroke-width="1" /></g><line x1="1.5" y1="38" x2="1.5" y2="487.5" stroke="#222" stroke-width="1.2"/><line x1="1" y1="38.3" x2="664.5" y2="38.3" stroke="#333" stroke-width="1.2"/><line x1="664.5" y1="38" x2="664.5" y2="488" stroke="#222" stroke-width="1.1"/><line x1="1" y1="337.8" x2="664.5" y2="337.8" stroke="#5a5a5a" stroke-width="2"/><line x1="1" y1="487.4" x2="664.5" y2="487.4" stroke="#333" stroke-width="1.4"/><path d="M525.8,38.2 L534,38.2 L529.8,42.6Z" fill="#000"/><g clip-path="url(#sc)"><line x1="2.00" y1="441.7" x2="2.00" y2="442.70" stroke="#1f9a1f" stroke-width="1.2"/><line x1="5.52" y1="441.7" x2="5.52" y2="442.70" stroke="#1f9a1f" stroke-width="1.2"/><line x1="9.04" y1="441.7" x2="9.04" y2="442.70" stroke="#1f9a1f" stroke-width="1.2"/><line x1="12.56" y1="441.7" x2="12.56" y2="442.70" stroke="#1f9a1f" stroke-width="1.2"/><line x1="16.08" y1="441.7" x2="16.08" y2="442.70" stroke="#1f9a1f" stroke-width="1.2"/><line x1="19.60" y1="441.7" x2="19.60" y2="442.70" stroke="#1f9a1f" stroke-width="1.2"/><line x1="23.12" y1="441.7" x2="23.12" y2="442.70" stroke="#1f9a1f" stroke-width="1.2"/><line x1="26.64" y1="441.7" x2="26.64" y2="442.70" stroke="#1f9a1f" stroke-width="1.2"/><line x1="30.16" y1="441.7" x2="30.16" y2="442.70" stroke="#1f9a1f" stroke-width="1.2"/><line x1="33.68" y1="441.7" x2="33.68" y2="442.70" stroke="#1f9a1f" stroke-width="1.2"/><line x1="37.20" y1="441.7" x2="37.20" y2="442.70" stroke="#1f9a1f" stroke-width="1.2"/><line x1="40.72" y1="441.7" x2="40.72" y2="442.70" stroke="#1f9a1f" stroke-width="1.2"/><line x1="44.24" y1="441.7" x2="44.24" y2="439.80" stroke="#1f9a1f" stroke-width="1.2"/><line x1="47.76" y1="441.7" x2="47.76" y2="442.70" stroke="#1f9a1f" stroke-width="1.2"/><line x1="51.28" y1="441.7" x2="51.28" y2="444.40" stroke="#1f9a1f" stroke-width="1.2"/><line x1="54.80" y1="441.7" x2="54.80" y2="444.40" stroke="#1f9a1f" stroke-width="1.2"/><line x1="58.32" y1="441.7" x2="58.32" y2="444.00" stroke="#1f9a1f" stroke-width="1.2"/><line x1="61.84" y1="441.7" x2="61.84" y2="445.70" stroke="#1f9a1f" stroke-width="1.2"/><line x1="65.36" y1="441.7" x2="65.36" y2="446.40" stroke="#1f9a1f" stroke-width="1.2"/><line x1="68.88" y1="441.7" x2="68.88" y2="445.70" stroke="#1f9a1f" stroke-width="1.2"/><line x1="72.40" y1="441.7" x2="72.40" y2="444.40" stroke="#1f9a1f" stroke-width="1.2"/><line x1="75.92" y1="441.7" x2="75.92" y2="445.00" stroke="#1f9a1f" stroke-width="1.2"/><line x1="79.44" y1="441.7" x2="79.44" y2="446.70" stroke="#1f9a1f" stroke-width="1.2"/><line x1="82.96" y1="441.7" x2="82.96" y2="447.60" stroke="#1f9a1f" stroke-width="1.2"/><line x1="86.48" y1="441.7" x2="86.48" y2="448.30" stroke="#1f9a1f" stroke-width="1.2"/><line x1="90.00" y1="441.7" x2="90.00" y2="448.60" stroke="#1f9a1f" stroke-width="1.2"/><line x1="93.52" y1="441.7" x2="93.52" y2="448.90" stroke="#1f9a1f" stroke-width="1.2"/><line x1="97.04" y1="441.7" x2="97.04" y2="450.80" stroke="#1f9a1f" stroke-width="1.2"/><line x1="100.56" y1="441.7" x2="100.56" y2="451.50" stroke="#1f9a1f" stroke-width="1.2"/><line x1="104.08" y1="441.7" x2="104.08" y2="452.10" stroke="#1f9a1f" stroke-width="1.2"/><line x1="107.60" y1="441.7" x2="107.60" y2="452.80" stroke="#1f9a1f" stroke-width="1.2"/><line x1="111.12" y1="441.7" x2="111.12" y2="452.80" stroke="#1f9a1f" stroke-width="1.2"/><line x1="114.64" y1="441.7" x2="114.64" y2="449.60" stroke="#1f9a1f" stroke-width="1.2"/><line x1="118.16" y1="441.7" x2="118.16" y2="443.10" stroke="#1f9a1f" stroke-width="1.2"/><line x1="121.68" y1="441.7" x2="121.68" y2="439.30" stroke="#1f9a1f" stroke-width="1.2"/><line x1="125.20" y1="441.7" x2="125.20" y2="437.40" stroke="#1f9a1f" stroke-width="1.2"/><line x1="128.72" y1="441.7" x2="128.72" y2="433.50" stroke="#1f9a1f" stroke-width="1.2"/><line x1="132.24" y1="441.7" x2="132.24" y2="431.00" stroke="#1f9a1f" stroke-width="1.2"/><line x1="135.76" y1="441.7" x2="135.76" y2="431.00" stroke="#1f9a1f" stroke-width="1.2"/><line x1="139.28" y1="441.7" x2="139.28" y2="431.00" stroke="#1f9a1f" stroke-width="1.2"/><line x1="142.80" y1="441.7" x2="142.80" y2="432.90" stroke="#1f9a1f" stroke-width="1.2"/><line x1="146.32" y1="441.7" x2="146.32" y2="436.10" stroke="#1f9a1f" stroke-width="1.2"/><line x1="149.84" y1="441.7" x2="149.84" y2="438.60" stroke="#1f9a1f" stroke-width="1.2"/><line x1="153.36" y1="441.7" x2="153.36" y2="440.00" stroke="#1f9a1f" stroke-width="1.2"/><line x1="156.88" y1="441.7" x2="156.88" y2="440.70" stroke="#1f9a1f" stroke-width="1.2"/><line x1="160.40" y1="441.7" x2="160.40" y2="443.80" stroke="#1f9a1f" stroke-width="1.2"/><line x1="163.92" y1="441.7" x2="163.92" y2="445.70" stroke="#1f9a1f" stroke-width="1.2"/><line x1="167.44" y1="441.7" x2="167.44" y2="445.00" stroke="#1f9a1f" stroke-width="1.2"/><line x1="170.96" y1="441.7" x2="170.96" y2="445.50" stroke="#1f9a1f" stroke-width="1.2"/><line x1="174.48" y1="441.7" x2="174.48" y2="446.50" stroke="#1f9a1f" stroke-width="1.2"/><line x1="178.00" y1="441.7" x2="178.00" y2="445.30" stroke="#1f9a1f" stroke-width="1.2"/><line x1="181.52" y1="441.7" x2="181.52" y2="443.70" stroke="#1f9a1f" stroke-width="1.2"/><line x1="185.04" y1="441.7" x2="185.04" y2="444.00" stroke="#1f9a1f" stroke-width="1.2"/><line x1="188.56" y1="441.7" x2="188.56" y2="440.70" stroke="#1f9a1f" stroke-width="1.2"/><line x1="192.08" y1="441.7" x2="192.08" y2="438.50" stroke="#1f9a1f" stroke-width="1.2"/><line x1="195.60" y1="441.7" x2="195.60" y2="436.60" stroke="#1f9a1f" stroke-width="1.2"/><line x1="199.12" y1="441.7" x2="199.12" y2="436.60" stroke="#1f9a1f" stroke-width="1.2"/><line x1="202.64" y1="441.7" x2="202.64" y2="438.00" stroke="#1f9a1f" stroke-width="1.2"/><line x1="206.16" y1="441.7" x2="206.16" y2="440.70" stroke="#1f9a1f" stroke-width="1.2"/><line x1="209.68" y1="441.7" x2="209.68" y2="446.00" stroke="#1f9a1f" stroke-width="1.2"/><line x1="213.20" y1="441.7" x2="213.20" y2="451.80" stroke="#1f9a1f" stroke-width="1.2"/><line x1="216.72" y1="441.7" x2="216.72" y2="455.60" stroke="#1f9a1f" stroke-width="1.2"/><line x1="220.24" y1="441.7" x2="220.24" y2="457.60" stroke="#1f9a1f" stroke-width="1.2"/><line x1="223.76" y1="441.7" x2="223.76" y2="459.50" stroke="#1f9a1f" stroke-width="1.2"/><line x1="227.28" y1="441.7" x2="227.28" y2="456.30" stroke="#1f9a1f" stroke-width="1.2"/><line x1="230.80" y1="441.7" x2="230.80" y2="457.60" stroke="#1f9a1f" stroke-width="1.2"/><line x1="234.32" y1="441.7" x2="234.32" y2="458.20" stroke="#1f9a1f" stroke-width="1.2"/><line x1="237.84" y1="441.7" x2="237.84" y2="455.00" stroke="#1f9a1f" stroke-width="1.2"/><line x1="241.36" y1="441.7" x2="241.36" y2="451.10" stroke="#1f9a1f" stroke-width="1.2"/><line x1="244.88" y1="441.7" x2="244.88" y2="449.20" stroke="#1f9a1f" stroke-width="1.2"/><line x1="248.40" y1="441.7" x2="248.40" y2="444.70" stroke="#1f9a1f" stroke-width="1.2"/><line x1="251.92" y1="441.7" x2="251.92" y2="439.60" stroke="#1f9a1f" stroke-width="1.2"/><line x1="255.44" y1="441.7" x2="255.44" y2="435.30" stroke="#1f9a1f" stroke-width="1.2"/><line x1="258.96" y1="441.7" x2="258.96" y2="431.90" stroke="#1f9a1f" stroke-width="1.2"/><line x1="262.48" y1="441.7" x2="262.48" y2="425.90" stroke="#1f9a1f" stroke-width="1.2"/><line x1="266.00" y1="441.7" x2="266.00" y2="423.10" stroke="#1f9a1f" stroke-width="1.2"/><line x1="269.52" y1="441.7" x2="269.52" y2="424.90" stroke="#1f9a1f" stroke-width="1.2"/><line x1="273.04" y1="441.7" x2="273.04" y2="430.10" stroke="#1f9a1f" stroke-width="1.2"/><line x1="276.56" y1="441.7" x2="276.56" y2="431.90" stroke="#1f9a1f" stroke-width="1.2"/><line x1="280.08" y1="441.7" x2="280.08" y2="436.10" stroke="#1f9a1f" stroke-width="1.2"/><line x1="283.60" y1="441.7" x2="283.60" y2="440.20" stroke="#1f9a1f" stroke-width="1.2"/><line x1="287.12" y1="441.7" x2="287.12" y2="440.70" stroke="#1f9a1f" stroke-width="1.2"/><line x1="290.64" y1="441.7" x2="290.64" y2="439.60" stroke="#1f9a1f" stroke-width="1.2"/><line x1="294.16" y1="441.7" x2="294.16" y2="436.10" stroke="#1f9a1f" stroke-width="1.2"/><line x1="297.68" y1="441.7" x2="297.68" y2="432.90" stroke="#1f9a1f" stroke-width="1.2"/><line x1="301.20" y1="441.7" x2="301.20" y2="430.10" stroke="#1f9a1f" stroke-width="1.2"/><line x1="304.72" y1="441.7" x2="304.72" y2="430.80" stroke="#1f9a1f" stroke-width="1.2"/><line x1="308.24" y1="441.7" x2="308.24" y2="430.10" stroke="#1f9a1f" stroke-width="1.2"/><line x1="311.76" y1="441.7" x2="311.76" y2="432.50" stroke="#1f9a1f" stroke-width="1.2"/><line x1="315.28" y1="441.7" x2="315.28" y2="436.10" stroke="#1f9a1f" stroke-width="1.2"/><line x1="318.80" y1="441.7" x2="318.80" y2="437.10" stroke="#1f9a1f" stroke-width="1.2"/><line x1="322.32" y1="441.7" x2="322.32" y2="438.90" stroke="#1f9a1f" stroke-width="1.2"/><line x1="325.84" y1="441.7" x2="325.84" y2="440.70" stroke="#1f9a1f" stroke-width="1.2"/><line x1="329.36" y1="441.7" x2="329.36" y2="444.80" stroke="#1f9a1f" stroke-width="1.2"/><line x1="332.88" y1="441.7" x2="332.88" y2="449.70" stroke="#1f9a1f" stroke-width="1.2"/><line x1="336.40" y1="441.7" x2="336.40" y2="451.80" stroke="#1f9a1f" stroke-width="1.2"/><line x1="339.92" y1="441.7" x2="339.92" y2="455.60" stroke="#1f9a1f" stroke-width="1.2"/><line x1="343.44" y1="441.7" x2="343.44" y2="457.50" stroke="#1f9a1f" stroke-width="1.2"/><line x1="346.96" y1="441.7" x2="346.96" y2="455.20" stroke="#1f9a1f" stroke-width="1.2"/><line x1="350.48" y1="441.7" x2="350.48" y2="452.80" stroke="#1f9a1f" stroke-width="1.2"/><line x1="354.00" y1="441.7" x2="354.00" y2="450.40" stroke="#1f9a1f" stroke-width="1.2"/><line x1="357.52" y1="441.7" x2="357.52" y2="451.20" stroke="#1f9a1f" stroke-width="1.2"/><line x1="361.04" y1="441.7" x2="361.04" y2="452.80" stroke="#1f9a1f" stroke-width="1.2"/><line x1="364.56" y1="441.7" x2="364.56" y2="457.60" stroke="#1f9a1f" stroke-width="1.2"/><line x1="368.08" y1="441.7" x2="368.08" y2="461.60" stroke="#1f9a1f" stroke-width="1.2"/><line x1="371.60" y1="441.7" x2="371.60" y2="464.00" stroke="#1f9a1f" stroke-width="1.2"/><line x1="375.12" y1="441.7" x2="375.12" y2="464.80" stroke="#1f9a1f" stroke-width="1.2"/><line x1="378.64" y1="441.7" x2="378.64" y2="460.80" stroke="#1f9a1f" stroke-width="1.2"/><line x1="382.16" y1="441.7" x2="382.16" y2="456.80" stroke="#1f9a1f" stroke-width="1.2"/><line x1="385.68" y1="441.7" x2="385.68" y2="457.60" stroke="#1f9a1f" stroke-width="1.2"/><line x1="389.20" y1="441.7" x2="389.20" y2="458.40" stroke="#1f9a1f" stroke-width="1.2"/><line x1="392.72" y1="441.7" x2="392.72" y2="455.20" stroke="#1f9a1f" stroke-width="1.2"/><line x1="396.24" y1="441.7" x2="396.24" y2="452.80" stroke="#1f9a1f" stroke-width="1.2"/><line x1="399.76" y1="441.7" x2="399.76" y2="446.40" stroke="#1f9a1f" stroke-width="1.2"/><line x1="403.28" y1="441.7" x2="403.28" y2="440.00" stroke="#1f9a1f" stroke-width="1.2"/><line x1="406.80" y1="441.7" x2="406.80" y2="437.60" stroke="#1f9a1f" stroke-width="1.2"/><line x1="410.32" y1="441.7" x2="410.32" y2="436.80" stroke="#1f9a1f" stroke-width="1.2"/><line x1="413.84" y1="441.7" x2="413.84" y2="433.60" stroke="#1f9a1f" stroke-width="1.2"/><line x1="417.36" y1="441.7" x2="417.36" y2="431.20" stroke="#1f9a1f" stroke-width="1.2"/><line x1="420.88" y1="441.7" x2="420.88" y2="431.20" stroke="#1f9a1f" stroke-width="1.2"/><line x1="424.40" y1="441.7" x2="424.40" y2="420.00" stroke="#1f9a1f" stroke-width="1.2"/><line x1="427.92" y1="441.7" x2="427.92" y2="414.20" stroke="#1f9a1f" stroke-width="1.2"/><line x1="431.44" y1="441.7" x2="431.44" y2="412.60" stroke="#1f9a1f" stroke-width="1.2"/><line x1="434.96" y1="441.7" x2="434.96" y2="411.90" stroke="#1f9a1f" stroke-width="1.2"/><line x1="438.48" y1="441.7" x2="438.48" y2="411.20" stroke="#1f9a1f" stroke-width="1.2"/><line x1="442.00" y1="441.7" x2="442.00" y2="410.10" stroke="#1f9a1f" stroke-width="1.2"/><line x1="445.52" y1="441.7" x2="445.52" y2="410.10" stroke="#1f9a1f" stroke-width="1.2"/><line x1="449.04" y1="441.7" x2="449.04" y2="410.90" stroke="#1f9a1f" stroke-width="1.2"/><line x1="452.56" y1="441.7" x2="452.56" y2="412.90" stroke="#1f9a1f" stroke-width="1.2"/><line x1="456.08" y1="441.7" x2="456.08" y2="412.30" stroke="#1f9a1f" stroke-width="1.2"/><line x1="459.60" y1="441.7" x2="459.60" y2="413.30" stroke="#1f9a1f" stroke-width="1.2"/><line x1="463.12" y1="441.7" x2="463.12" y2="417.90" stroke="#1f9a1f" stroke-width="1.2"/><line x1="466.64" y1="441.7" x2="466.64" y2="424.90" stroke="#1f9a1f" stroke-width="1.2"/><line x1="470.16" y1="441.7" x2="470.16" y2="436.10" stroke="#1f9a1f" stroke-width="1.2"/><line x1="473.68" y1="441.7" x2="473.68" y2="443.50" stroke="#1f9a1f" stroke-width="1.2"/><line x1="477.20" y1="441.7" x2="477.20" y2="450.20" stroke="#1f9a1f" stroke-width="1.2"/><line x1="480.72" y1="441.7" x2="480.72" y2="451.40" stroke="#1f9a1f" stroke-width="1.2"/><line x1="484.24" y1="441.7" x2="484.24" y2="455.80" stroke="#1f9a1f" stroke-width="1.2"/><line x1="487.76" y1="441.7" x2="487.76" y2="453.80" stroke="#1f9a1f" stroke-width="1.2"/><line x1="491.28" y1="441.7" x2="491.28" y2="457.00" stroke="#1f9a1f" stroke-width="1.2"/><line x1="494.80" y1="441.7" x2="494.80" y2="461.60" stroke="#1f9a1f" stroke-width="1.2"/><line x1="498.32" y1="441.7" x2="498.32" y2="464.60" stroke="#1f9a1f" stroke-width="1.2"/><line x1="501.84" y1="441.7" x2="501.84" y2="467.00" stroke="#1f9a1f" stroke-width="1.2"/><line x1="505.36" y1="441.7" x2="505.36" y2="467.20" stroke="#1f9a1f" stroke-width="1.2"/><line x1="508.88" y1="441.7" x2="508.88" y2="464.70" stroke="#1f9a1f" stroke-width="1.2"/><line x1="512.40" y1="441.7" x2="512.40" y2="461.60" stroke="#1f9a1f" stroke-width="1.2"/><line x1="515.92" y1="441.7" x2="515.92" y2="457.60" stroke="#1f9a1f" stroke-width="1.2"/><line x1="519.44" y1="441.7" x2="519.44" y2="453.60" stroke="#1f9a1f" stroke-width="1.2"/><line x1="522.96" y1="441.7" x2="522.96" y2="451.20" stroke="#1f9a1f" stroke-width="1.2"/><line x1="526.48" y1="441.7" x2="526.48" y2="448.00" stroke="#1f9a1f" stroke-width="1.2"/><path d="M1.50,391.50 C5.85,391.05 37.65,386.55 45.00,387.00 C52.35,387.45 69.90,394.20 75.00,396.00 C80.10,397.80 91.94,402.74 96.00,405.00 C100.06,407.26 112.60,417.84 115.60,418.60 C118.60,419.36 122.56,414.40 126.00,412.60 C129.44,410.80 145.20,401.50 150.00,400.60 C154.80,399.70 170.30,402.86 174.00,403.60 C177.70,404.34 183.90,408.00 187.00,408.00 C190.10,408.00 201.40,402.40 205.00,403.60 C208.60,404.80 220.00,416.86 223.00,420.00 C226.00,423.14 232.60,432.74 235.00,435.00 C237.40,437.26 245.00,442.04 247.00,442.60 C249.00,443.16 253.20,441.96 255.00,440.60 C256.80,439.24 263.60,430.75 265.00,429.00 C266.40,427.25 267.20,424.44 269.00,423.10 C270.80,421.76 281.18,416.30 283.00,415.60 C284.82,414.90 285.80,416.40 287.20,416.10 C288.60,415.80 294.62,414.21 297.00,412.60 C299.38,410.99 308.20,401.66 311.00,400.00 C313.80,398.34 322.10,395.28 325.00,396.00 C327.90,396.72 337.50,405.10 340.00,407.20 C342.50,409.30 348.40,415.72 350.00,417.00 C351.60,418.28 354.80,419.24 356.00,420.00 C357.20,420.76 360.40,422.44 362.00,424.60 C363.60,426.76 369.72,438.46 372.00,441.60 C374.28,444.74 382.40,453.28 384.80,456.00 C387.20,458.72 394.08,467.52 396.00,468.80 C397.92,470.08 402.08,469.36 404.00,468.80 C405.92,468.24 413.28,464.80 415.20,463.20 C417.12,461.60 421.76,454.88 423.20,452.80 C424.64,450.72 428.67,444.10 429.60,442.40 C430.53,440.70 431.38,438.34 432.50,435.80 C433.62,433.26 438.93,421.16 440.80,417.00 C442.67,412.84 449.78,397.20 451.20,394.20 C452.62,391.20 453.96,389.29 455.00,387.00 C456.04,384.71 460.10,373.50 461.60,371.30 C463.10,369.10 467.92,364.79 470.00,365.00 C472.08,365.21 480.12,371.73 482.40,373.40 C484.68,375.07 490.72,379.00 492.80,381.70 C494.88,384.40 501.12,396.97 503.20,400.40 C505.28,403.83 511.32,413.40 513.60,416.00 C515.88,418.60 524.76,425.36 526.00,426.40" fill="none" stroke="#ff3b3b" stroke-width="1.1" stroke-dasharray="2.6,2.4"/><path d="M1.50,390.00 C3.00,389.84 21.20,387.90 24.00,387.60 C26.80,387.30 41.70,385.34 43.50,385.50 C45.30,385.66 49.50,389.30 51.00,390.00 C52.50,390.70 64.20,395.40 66.00,396.00 C67.80,396.60 76.00,398.00 78.00,399.00 C80.00,400.00 93.80,409.09 96.00,411.00 C98.20,412.91 109.40,426.89 111.00,427.60 C112.60,428.31 118.60,423.40 120.00,421.60 C121.40,419.80 130.60,402.34 132.00,400.60 C133.40,398.86 139.60,395.61 141.00,395.50 C142.40,395.39 150.80,397.97 153.00,399.00 C155.20,400.03 171.93,410.23 174.00,411.00 C176.07,411.77 182.93,410.79 184.00,410.50 C185.07,410.21 188.90,407.37 190.00,406.60 C191.10,405.83 199.30,399.11 200.50,399.00 C201.70,398.89 206.90,403.40 208.00,405.00 C209.10,406.60 215.80,420.69 217.00,423.00 C218.20,425.31 224.80,437.83 226.00,439.60 C227.20,441.37 234.00,448.82 235.00,449.50 C236.00,450.18 240.20,449.86 241.00,449.80 C241.80,449.74 246.00,449.79 247.00,448.60 C248.00,447.41 255.00,434.12 256.00,432.00 C257.00,429.88 261.13,418.49 262.00,416.80 C262.87,415.11 268.25,407.19 269.00,406.70 C269.75,406.21 272.73,409.39 273.20,409.50 C273.67,409.61 275.35,408.10 276.00,408.40 C276.65,408.70 282.25,413.49 283.00,414.00 C283.75,414.51 286.55,416.38 287.20,416.10 C287.85,415.82 291.88,411.03 292.80,409.80 C293.72,408.57 299.85,398.85 301.00,397.60 C302.15,396.35 308.40,391.20 310.00,391.00 C311.60,390.80 323.40,393.67 325.00,394.60 C326.60,395.53 332.80,402.91 334.00,405.00 C335.20,407.09 341.75,424.47 343.00,426.00 C344.25,427.53 351.61,427.44 352.80,428.00 C353.99,428.56 359.95,433.17 360.80,434.40 C361.65,435.63 364.85,444.48 365.60,446.40 C366.35,448.32 371.15,461.71 372.00,463.20 C372.85,464.69 377.65,468.21 378.40,468.80 C379.15,469.39 382.45,471.25 383.20,472.00 C383.95,472.75 388.75,479.47 389.60,480.00 C390.45,480.53 395.04,480.85 396.00,480.00 C396.96,479.15 403.04,468.48 404.00,467.20 C404.96,465.92 409.33,462.08 410.40,460.80 C411.47,459.52 419.04,450.13 420.00,448.00 C420.96,445.87 424.11,431.28 424.80,428.80 C425.49,426.32 429.33,413.52 430.40,410.80 C431.47,408.08 439.41,391.19 440.80,388.00 C442.19,384.81 450.09,365.49 451.20,363.00 C452.31,360.51 456.64,351.73 457.40,350.60 C458.16,349.47 461.91,345.93 462.60,346.00 C463.29,346.07 467.04,350.05 467.80,351.60 C468.56,353.15 473.17,367.36 474.00,369.30 C474.83,371.24 479.47,379.39 480.30,380.70 C481.13,382.01 485.67,387.82 486.50,389.00 C487.33,390.18 491.97,396.67 492.80,398.40 C493.63,400.13 498.28,412.97 499.00,415.00 C499.72,417.03 502.97,427.61 503.60,428.80 C504.23,429.99 507.60,432.29 508.40,432.80 C509.20,433.31 514.43,436.42 515.60,436.50 C516.77,436.58 525.31,434.17 526.00,434.00" fill="none" stroke="#3535ff" stroke-width="1.15"/></g><line x1="664" y1="59.4" x2="667" y2="59.4" stroke="#222" stroke-width="1"/><line x1="664" y1="82.4" x2="667" y2="82.4" stroke="#222" stroke-width="1"/><line x1="664" y1="105.2" x2="667" y2="105.2" stroke="#222" stroke-width="1"/><line x1="664" y1="128.2" x2="667" y2="128.2" stroke="#222" stroke-width="1"/><line x1="664" y1="151.4" x2="667" y2="151.4" stroke="#222" stroke-width="1"/><line x1="664" y1="174.4" x2="667" y2="174.4" stroke="#222" stroke-width="1"/><line x1="664" y1="197.4" x2="667" y2="197.4" stroke="#222" stroke-width="1"/><line x1="664" y1="220.4" x2="667" y2="220.4" stroke="#222" stroke-width="1"/><line x1="664" y1="243.3" x2="667" y2="243.3" stroke="#222" stroke-width="1"/><line x1="664" y1="266.3" x2="667" y2="266.3" stroke="#222" stroke-width="1"/><line x1="664" y1="289.3" x2="667" y2="289.3" stroke="#222" stroke-width="1"/><line x1="664" y1="312.3" x2="667" y2="312.3" stroke="#222" stroke-width="1"/><line x1="664" y1="335.3" x2="667" y2="335.3" stroke="#222" stroke-width="1"/><line x1="664" y1="343" x2="667" y2="343" stroke="#222" stroke-width="1"/><line x1="664" y1="441.2" x2="667" y2="441.2" stroke="#222" stroke-width="1"/><line x1="664" y1="483" x2="667" y2="483" stroke="#222" stroke-width="1"/><line x1="58.2" y1="487" x2="58.2" y2="491" stroke="#222" stroke-width="1"/><line x1="114.6" y1="487" x2="114.6" y2="491" stroke="#222" stroke-width="1"/><line x1="170.9" y1="487" x2="170.9" y2="491" stroke="#222" stroke-width="1"/><line x1="227.3" y1="487" x2="227.3" y2="491" stroke="#222" stroke-width="1"/><line x1="283.2" y1="487" x2="283.2" y2="491" stroke="#222" stroke-width="1"/><line x1="339.3" y1="487" x2="339.3" y2="491" stroke="#222" stroke-width="1"/><line x1="396" y1="487" x2="396" y2="491" stroke="#222" stroke-width="1"/><line x1="452.3" y1="487" x2="452.3" y2="491" stroke="#222" stroke-width="1"/><line x1="508.3" y1="487" x2="508.3" y2="491" stroke="#222" stroke-width="1"/><line x1="1.5" y1="487" x2="1.5" y2="491" stroke="#222" stroke-width="1"/></svg>
<div class="title"><span style="left:193.3px;transform:scaleX(1.048)">Chart</span><span style="left:242.6px;transform:scaleX(1.027)">Analysis</span><span style="left:316.3px;transform:scaleX(1.036)">for</span><span style="left:343.9px;transform:scaleX(1.047)">Clients</span><span style="left:405.2px;transform:scaleX(0.93)">of</span><span style="left:426.2px;transform:scaleX(0.93)">GCM</span><span style="left:472.4px;transform:scaleX(0.95)">Asia</span></div>
<div class="tri"></div>
<div class="ax" style="left:669px;top:53.9px;">67.705</div><div class="ax" style="left:669px;top:76.9px;">66.755</div><div class="ax" style="left:669px;top:99.7px;">65.805</div><div class="ax" style="left:669px;top:122.69999999999999px;">64.855</div><div class="ax" style="left:669px;top:145.9px;">63.905</div><div class="ax" style="left:669px;top:168.9px;">62.955</div><div class="ax" style="left:669px;top:191.9px;">62.005</div><div class="ax" style="left:669px;top:214.9px;">61.055</div><div class="ax" style="left:669px;top:237.8px;">60.105</div><div class="ax" style="left:669px;top:260.8px;">59.155</div><div class="ax" style="left:669px;top:283.8px;">58.205</div><div class="ax" style="left:669px;top:306.8px;">57.255</div><div class="ax" style="left:669px;top:329.8px;">56.305</div><div class="ax" style="left:668.5px;top:337.5px;">1.6099</div><div class="ax" style="left:668.5px;top:435.7px;">0.00</div><div class="ax" style="left:668.5px;top:477.5px;">-0.7177</div><div class="lbl" style="top:48.4px;background:#ff0000">67.999</div><div class="lbl" style="top:94.3px;background:#ff0000">66.076</div><div class="lbl" style="top:158.4px;background:#ff0000">63.453</div><div class="lbl" style="top:206.9px;background:#ff0000">61.451</div><div class="lbl" style="top:259.1px;background:#ff0000">59.296</div><div class="lbl" style="top:128.0px;background:#000000">64.710</div><div class="ax" style="left:1px;top:488.5px;">5 Feb 2021</div><div class="ax" style="left:57.7px;top:488.5px;">9 Feb 20:00</div><div class="ax" style="left:114.3px;top:488.5px;">12 Feb 12:00</div><div class="ax" style="left:170.6px;top:488.5px;">16 Feb 20:00</div><div class="ax" style="left:227px;top:488.5px;">19 Feb 12:00</div><div class="ax" style="left:282.9px;top:488.5px;">24 Feb 00:00</div><div class="ax" style="left:339px;top:488.5px;">26 Feb 16:00</div><div class="ax" style="left:395.7px;top:488.5px;">3 Mar 04:00</div><div class="ax" style="left:452px;top:488.5px;">5 Mar 20:00</div><div class="ax" style="left:508px;top:488.5px;">10 Mar 08:00</div><div class="ax" style="left:15px;top:38.5px;letter-spacing:0.115px">CrudeOIL,H4&nbsp;&nbsp;64.640 64.750 64.620 64.710</div><div class="ax" style="left:5.5px;top:339.5px;letter-spacing:0.13px">MACD(12,26,9) 0.1216 0.2347 -0.1131</div>
</body></html>
